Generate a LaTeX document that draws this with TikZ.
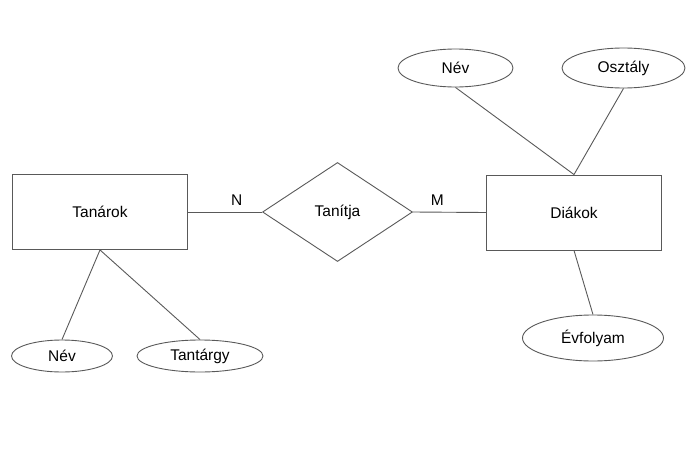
\documentclass[tikz,border=0pt]{standalone}
\usepackage{fontspec}
\setmainfont{Liberation Sans}
\usetikzlibrary{shapes.geometric}

\begin{document}
\begin{tikzpicture}[x=1pt,y=-1pt,
        every node/.style={font=\fontsize{15.5}{18}\selectfont},
        entity/.style={draw=black!65,line width=0.9pt,rectangle,minimum width=175pt,minimum height=75pt},
        relation/.style={draw=black!65,line width=0.9pt,diamond,inner sep=0pt,minimum width=150pt,minimum height=99pt},
        attrib/.style={draw=black!65,line width=0.9pt,ellipse,inner sep=0pt},
        conn/.style={draw=black!65,line width=0.9pt}]
            \useasboundingbox (0,0) rectangle (691,474);
            % entities and relation
            \node[entity] (tanarok) at (100,212) {Tanárok};
            \node[relation] (tanitja) at (337.5,212) {Tanítja};
            \node[entity] (diakok) at (574,212.5) {Diákok};
            % attributes
            \node[attrib,minimum width=115pt,minimum height=38pt] (nevD) at (455.5,68) {Név};
            \node[attrib,minimum width=123pt,minimum height=40pt] (osztaly) at (623.5,68) {Osztály};
            \node[attrib,minimum width=141pt,minimum height=46pt] (evfolyam) at (593,338) {Évfolyam};
            \node[attrib,minimum width=101pt,minimum height=32pt] (nevT) at (62,356) {Név};
            \node[attrib,minimum width=126pt,minimum height=32pt] (tantargy) at (200,356) {Tantárgy};
            % connectors
            \draw[conn] (tanarok.east) -- node[pos=0.657,yshift=12pt] (cardN) {N} (tanitja.west);
            \draw[conn] (tanitja.east) -- node[pos=0.335,yshift=12pt] (cardM) {M} (diakok.west);
            \draw[conn] (diakok.north) -- (nevD.south);
            \draw[conn] (diakok.north) -- (osztaly.south);
            \draw[conn] (diakok.south) -- (evfolyam.north);
            \draw[conn] (tanarok.south) -- (nevT.north);
            \draw[conn] (tanarok.south) -- (tantargy.north);
        \end{tikzpicture}
\end{document}
